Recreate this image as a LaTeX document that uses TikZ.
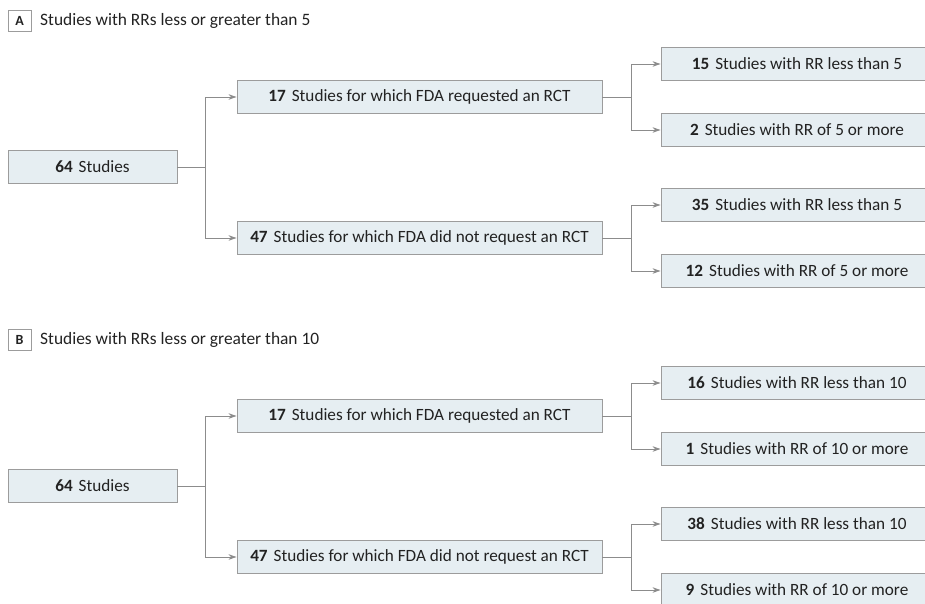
\documentclass[tikz,border=0pt]{standalone}
\usepackage{fontspec}
\setmainfont{Carlito}
\usetikzlibrary{arrows.meta}
\definecolor{boxfill}{HTML}{E6EEF2}
\definecolor{boxline}{HTML}{9C9C9C}
\definecolor{arrowgray}{HTML}{8C8C8C}
\definecolor{textdark}{HTML}{222222}
\tikzset{
  studybox/.style={draw=boxline, fill=boxfill, line width=0.9pt, minimum height=33pt, inner sep=0pt, text=textdark, font=\fontsize{17.2}{20}\selectfont},
  panellabel/.style={draw=boxline, line width=0.8pt, minimum width=23pt, minimum height=21pt, inner sep=0pt, text=textdark, font=\bfseries\fontsize{14}{16}\selectfont},
  paneltitle/.style={anchor=west, inner sep=0pt, text=textdark, font=\fontsize{17.4}{20}\selectfont},
  branch/.style={draw=arrowgray, line width=0.9pt, -{Stealth[length=8pt,width=5.5pt]}},
}
\newcommand{\nstud}[1]{\textbf{#1}\hspace{0.35em}}

\begin{document}
\begin{tikzpicture}[x=1pt,y=-1pt]
\useasboundingbox (0,0) rectangle (925,604);
\clip (0,0) rectangle (925,604);

% panel A
\node[panellabel] (labA) at (19.5,20.5) {A};
\node[paneltitle] (titA) at (40,20.5) {Studies with RRs less or greater than 5};
\node[studybox, minimum width=169pt] (a64) at (92.5,167) {\nstud{64}Studies};
\node[studybox, minimum width=365pt] (a17) at (419.5,97) {\nstud{17}Studies for which FDA requested an RCT};
\node[studybox, minimum width=365pt] (a47) at (419.5,238) {\nstud{47}Studies for which FDA did not request an RCT};
\node[studybox, minimum width=272pt] (a15) at (797,64) {\nstud{15}Studies with RR less than 5};
\node[studybox, minimum width=272pt] (a2) at (797,130) {\nstud{2}Studies with RR of 5 or more};
\node[studybox, minimum width=272pt] (a35) at (797,205) {\nstud{35}Studies with RR less than 5};
\node[studybox, minimum width=272pt] (a12) at (797,271) {\nstud{12}Studies with RR of 5 or more};

\draw[branch] (a64.east) -- ++(28,0) |- (a17.west);
\draw[branch] (a64.east) -- ++(28,0) |- (a47.west);
\draw[branch] (a17.east) -- ++(29,0) |- (a15.west);
\draw[branch] (a17.east) -- ++(29,0) |- (a2.west);
\draw[branch] (a47.east) -- ++(29,0) |- (a35.west);
\draw[branch] (a47.east) -- ++(29,0) |- (a12.west);

% panel B
\node[panellabel] (labB) at (19.5,339.5) {B};
\node[paneltitle] (titB) at (40,339.5) {Studies with RRs less or greater than 10};
\node[studybox, minimum width=169pt] (b64) at (92.5,486) {\nstud{64}Studies};
\node[studybox, minimum width=365pt] (b17) at (419.5,416) {\nstud{17}Studies for which FDA requested an RCT};
\node[studybox, minimum width=365pt] (b47) at (419.5,557) {\nstud{47}Studies for which FDA did not request an RCT};
\node[studybox, minimum width=272pt] (b16) at (797,383) {\nstud{16}Studies with RR less than 10};
\node[studybox, minimum width=272pt] (b1) at (797,449) {\nstud{1}Studies with RR of 10 or more};
\node[studybox, minimum width=272pt] (b38) at (797,524) {\nstud{38}Studies with RR less than 10};
\node[studybox, minimum width=272pt] (b9) at (797,590) {\nstud{9}Studies with RR of 10 or more};

\draw[branch] (b64.east) -- ++(28,0) |- (b17.west);
\draw[branch] (b64.east) -- ++(28,0) |- (b47.west);
\draw[branch] (b17.east) -- ++(29,0) |- (b16.west);
\draw[branch] (b17.east) -- ++(29,0) |- (b1.west);
\draw[branch] (b47.east) -- ++(29,0) |- (b38.west);
\draw[branch] (b47.east) -- ++(29,0) |- (b9.west);
\end{tikzpicture}
\end{document}
